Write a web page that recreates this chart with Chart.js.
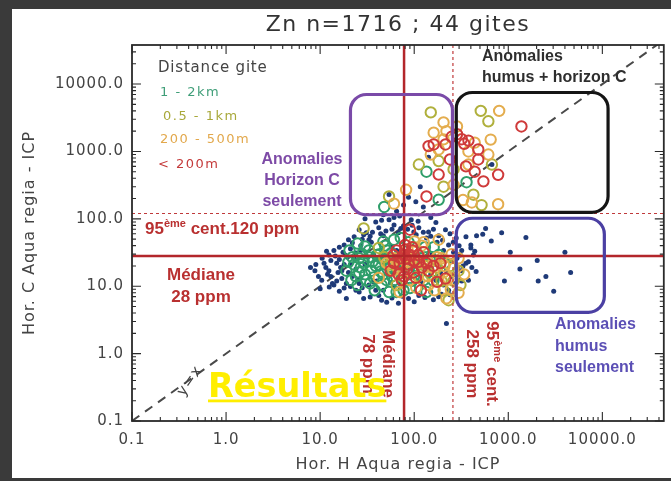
<!DOCTYPE html>
<html>
<head>
<meta charset="utf-8">
<script src="https://cdn.jsdelivr.net/npm/chart.js@4.4.1/dist/chart.umd.min.js"></script>
<style>
  html, body { margin: 0; padding: 0; width: 671px; height: 481px; overflow: hidden; background: #3a3a3a; }
  #panel { position: absolute; left: 12px; top: 9px; width: 659px; height: 469px; background: #fff; }
  canvas { display: block; }
</style>
</head>
<body>
<div id="panel"><canvas id="zn" width="659" height="469"></canvas></div>
<script>
// axis ticks (ppm, log scale)
const xTicks = [0.1, 1, 10, 100, 1000, 10000];
const yTicks = [0.1, 1, 10, 100, 1000, 10000];
const xRange = [0.1, 45000];
const yRange = [0.1, 38000];

// thresholds
const medianH = 78, p95H = 258;   // humus
const medianC = 28, p95C = 120;   // horizon C

// zones [xmin, xmax, ymin, ymax]
const zoneOnlyC = [21, 255, 115, 7000];
const zoneBoth = [280, 11500, 125, 7500];
const zoneOnlyH = [280, 10500, 4.1, 102];

// samples, [horizon H, horizon C] in ppm
const farDots = [
  [8.8,17],[11,22],[13,14],[15,12],[17,17],[19,6.6],[29,6.6],[51,5.8],[68,5.6],[24,8.7],[39,8.7],
  [16,38],[20,49],[26,69],[39,90],[54,97],[93,97],[170,88],[215,69],[280,52],[320,34],[355,22],
  [296,12.3],[232,8.7],[182,7],[220,2.8],[7.9,19],[10.4,12.3],
  [12.4,29],[14,34],[18,41],[23,54],[29,58],[33,49],[42,74],[61,81],[77,79],[112,74],[142,64],[182,56],
  [232,41],[262,32],[285,26],[315,17],[262,15],[205,10.4],[150,8.2],[112,7.3],[87,6.6],[42,7.3],[26,8.2],
  [18,9.4],[14,10.4],[12.4,17],[15,22],[18.5,29],[21,21],[16.5,19],[25,12.3],[33,10.4],[47,8.7],[61,9.8],
  [126,9.8],[170,12.3],[220,17],[245,24],[205,34],[175,45],[135,52],[99,64],[68,62],[47,56],[35,45],
  [27,34],[23,26],[20,16],[27,13.3],[37,11.6],[56,11.3],[82,10.4],[118,11.6],[150,15],[377,23],[426,29],
  [400,41],[355,54],[455,16.5],[377,12.3],
  [574,72],[535,59],[850,62],[660,47],[1540,53],[1050,32],[4000,32],[2030,24],[1330,18],[4600,16],
  [2510,14],[910,12],[2080,12],[3040,8.4],[460,56],[440,33],[400,37],[410,19],[320,12],
  [142,820],[116,300],[87,210],[104,180],[670,640],[54,230],[77,160],[65,130],[47,115],[61,105],
  [37,29],[47,22],[65,34],[90,19],[135,26],[182,21],[112,36],[56,15],[30,21],
  [10.5,26],[11.5,19],[12,15],[13,24],[13.5,11],[14.5,28],[15.5,16],[16,25],[17,13],[17.5,32],[18,21],
  [19,11],[19.5,27],[21,36],[22,14],[22,44],[24,18],[24,31],[26,11],[27,40],[28,50],[31,62],[34,55],
  [36,63],[44,60],[50,66],[58,70],[72,72],[85,70],[95,80],[105,58],[125,63],[150,55],[160,70],[200,48],
  [240,60],[260,45],[300,40],[310,29],[330,20],[290,19],[275,11],[250,14],[240,7.5],[195,7.6],[160,6.3],
  [130,6.8],[100,5.9],[75,7.1],[58,6.7],[45,6.2],[34,6.9],[28,9.5],[21,9.9],[16,8.4],[12.5,9.7],[9.6,14],
  [10,9.2],[9,21],[11.7,33],
  [44,27],[58,38],[83,32],[120,27],[155,30],[190,16],[100,11],[70,11],[40,12],[32,27],
  [30,100],[70,110],[45,95],[110,92],[150,105],[125,150]
];
const km1to2 = [
  [29,23],[35,17],[42,21],[37,13.5],[47,15],[56,19],[26,16],[31,12.3],[45,10.4],[61,12.3],[23,21],
  [40,29],[51,34],[68,26],[87,15],[112,17],[142,21],[99,23],[77,8.7],[126,12.3],[182,29],[161,38],
  [61,49],[87,45],[33,34],[26,26],[20,23],[25,10.4],[54,8.2],
  [20.5,34],[25,43],[30,39],[36,23],[44,16.5],[51,12.3],[38,8.7],[30,15],[21.5,12.3],[19,17],[56,26],
  [65,8.2],[90,9.4],[135,8.2],[165,17],[210,22],[47,46],[72,52],
  [33,27],[39,20],[46,25],[52,18],[58,14],[63,21],[71,17],[27,19],[24,14],[34,11],[43,30],[49,40],
  [57,31],[80,19],[95,12],[105,20],[118,26],[150,27],[160,12],[130,38],[28,30],[22,27],
  [135,500],[360,350],[182,192],[48,150]
];
const km05to1 = [
  [150,3800],[510,4000],[614,2800],[182,720],[670,640],[205,300],[520,160],[54,215],[29,72],
  [112,640],[262,540],[426,228],
  [54,21],[77,16],[104,26],[150,15],[205,8.7],[262,12],[65,10.4],[42,37],[296,17],[232,6.2],[310,10.4],
  [66,19],[85,28],[110,14],[130,20],[175,19],[195,12],[240,20],[48,27],[100,38]
];
const m200to500 = [
  [800,4000],[205,2700],[161,1900],[440,1350],[650,1500],[182,1070],[150,900],[377,1000],[330,190],
  [410,175],[780,165],[82,270],[220,2000],[285,2350],[205,1510],[377,640],[614,900],[262,320],[61,168],
  [68,18.5],[87,23],[126,18.5],[112,29],[161,24],[205,16],[90,12.3],[142,10.4],[262,18.5],[245,9],
  [182,49],[126,45],[61,26],[220,6.6],[296,8],
  [51,22],[42,13.3],[165,8.7],[195,26],[101,46],[70,8.2],[296,26],[340,15],
  [75,20],[95,26],[115,22],[140,14],[155,19],[175,27],[210,20],[230,13],[250,30],[105,9.5],[120,40],
  [85,35],[60,17]
];
const under200 = [
  [1380,2350],[250,1650],[320,1520],[377,1450],[340,1300],[142,1200],[161,1270],[240,760],[480,1070],
  [480,760],[355,600],[440,500],[780,450],[135,215],[285,1800],[182,454],[215,1270],[544,360],
  [77,29],[87,21],[68,15],[99,16],[112,23],[142,17],[80,41],[61,22],[175,11.6],[215,13],[118,8.7],
  [90,69],[126,32],
  [70,22],[82,26],[65,34],[96,34],[74,12.3],[56,17],[104,13.3],[135,22],
  [72,26],[90,29],[100,24],[84,18],[78,14],[120,19],[110,29],[95,38],[160,20],[190,22],[60,29],[80,35]
];

const toXY = pts => pts.map(([x, y]) => ({ x, y }));
const ring = (label, pts, color, order) => ({
  label, data: toXY(pts), order,
  pointRadius: 5.2, borderWidth: 2, borderColor: color, backgroundColor: 'rgba(0,0,0,0)'
});

const colGreen = '#2f9e6a', colOlive = '#b0b03c', colOrange = '#e4ad4e', colRed = '#cf3a3a';
const redLine = '#b3262b', redText = '#b93030';

function text(ctx, s, x, y, font, color, align, spacing) {
  ctx.save();
  ctx.font = font;
  ctx.fillStyle = color;
  ctx.textAlign = align || 'left';
  ctx.textBaseline = 'middle';
  ctx.letterSpacing = spacing || '0px';
  ctx.fillText(s, x, y);
  ctx.restore();
}

// text with a superscript part: parts = [[str, isSup], ...]
function richText(ctx, parts, x, y, size, color, align) {
  ctx.save();
  ctx.fillStyle = color;
  ctx.textBaseline = 'middle';
  ctx.textAlign = 'left';
  ctx.letterSpacing = '0px';
  const fonts = parts.map(p => 'bold ' + (p[1] ? Math.round(size * 0.62) : size) + 'px "Liberation Sans"');
  let w = 0;
  parts.forEach((p, i) => { ctx.font = fonts[i]; w += ctx.measureText(p[0]).width; });
  let cx = align === 'center' ? x - w / 2 : x;
  parts.forEach((p, i) => {
    ctx.font = fonts[i];
    ctx.fillText(p[0], cx, p[1] ? y - size * 0.3 : y);
    cx += ctx.measureText(p[0]).width;
  });
  ctx.restore();
}

const overlay = {
  id: 'overlay',
  beforeDraw(chart) {
    chart.ctx.letterSpacing = '1px';
  },
  beforeDatasetsDraw(chart) {
    const { ctx, chartArea: a, scales: { x, y } } = chart;
    ctx.save();
    ctx.beginPath();
    ctx.rect(a.left, a.top, a.right - a.left, a.bottom - a.top);
    ctx.clip();
    ctx.strokeStyle = '#4a4a4a';
    ctx.lineWidth = 2;
    ctx.setLineDash([9, 7]);
    ctx.beginPath();
    ctx.moveTo(x.getPixelForValue(xRange[0]), y.getPixelForValue(xRange[0]));
    ctx.lineTo(x.getPixelForValue(xRange[1]), y.getPixelForValue(xRange[1]));
    ctx.stroke();
    ctx.restore();
  },
  afterDatasetsDraw(chart) {
    const { ctx, chartArea: a, scales: { x, y } } = chart;
    ctx.save();
    ctx.letterSpacing = '0px';

    // thresholds
    ctx.strokeStyle = redLine;
    ctx.lineWidth = 2.5;
    ctx.beginPath();
    ctx.moveTo(x.getPixelForValue(medianH), a.top); ctx.lineTo(x.getPixelForValue(medianH), a.bottom);
    ctx.moveTo(a.left, y.getPixelForValue(medianC)); ctx.lineTo(a.right, y.getPixelForValue(medianC));
    ctx.stroke();
    ctx.lineWidth = 1.2;
    ctx.strokeStyle = '#c0393b';
    ctx.setLineDash([3, 3]);
    ctx.beginPath();
    ctx.moveTo(x.getPixelForValue(p95H), a.top); ctx.lineTo(x.getPixelForValue(p95H), a.bottom);
    ctx.moveTo(a.left, y.getPixelForValue(p95C)); ctx.lineTo(a.right, y.getPixelForValue(p95C));
    ctx.stroke();
    ctx.setLineDash([]);

    // zones
    [[zoneOnlyC, '#7a4aa8'], [zoneBoth, '#151515'], [zoneOnlyH, '#4b40a3']].forEach(([z, c]) => {
      const x0 = x.getPixelForValue(z[0]), x1 = x.getPixelForValue(z[1]);
      const y0 = y.getPixelForValue(z[3]), y1 = y.getPixelForValue(z[2]);
      ctx.strokeStyle = c;
      ctx.lineWidth = 3.2;
      ctx.beginPath();
      ctx.roundRect(x0, y0, x1 - x0, y1 - y0, 16);
      ctx.stroke();
    });

    // frame + IDL style ticks on the four sides
    ctx.strokeStyle = '#2a2a2a';
    ctx.lineWidth = 1.8;
    ctx.strokeRect(a.left, a.top, a.right - a.left, a.bottom - a.top);
    ctx.lineWidth = 1.1;
    ctx.beginPath();
    for (let d = -1; d <= 4; d++) {
      for (let k = 1; k <= 9; k++) {
        const v = k * Math.pow(10, d);
        const len = k === 1 ? 9 : 4;
        if (v >= x.min && v <= x.max) {
          const px = x.getPixelForValue(v);
          ctx.moveTo(px, a.bottom); ctx.lineTo(px, a.bottom - len);
          ctx.moveTo(px, a.top); ctx.lineTo(px, a.top + len);
        }
        if (v >= y.min && v <= y.max) {
          const py = y.getPixelForValue(v);
          ctx.moveTo(a.left, py); ctx.lineTo(a.left + len, py);
          ctx.moveTo(a.right, py); ctx.lineTo(a.right - len, py);
        }
      }
    }
    ctx.stroke();
    ctx.restore();

    // title
    text(ctx, 'Zn n=1716 ; 44 gites', (a.left + a.right) / 2, 16, '22px "DejaVu Sans"', '#333', 'center', '1.5px');

    // legend
    const lg = '13px "DejaVu Sans"';
    text(ctx, 'Distance gite', 146, 59, '15px "DejaVu Sans"', '#444', 'left', '0.8px');
    text(ctx, '1 - 2km', 148, 84, lg, '#3f9e78', 'left', '1.5px');
    text(ctx, '0.5 - 1km', 151, 108, lg, '#a8a83a', 'left', '1.5px');
    text(ctx, '200 - 500m', 148, 131, lg, '#e2a84c', 'left', '1.5px');
    text(ctx, '< 200m', 146, 156, lg, '#c43a3a', 'left', '1.5px');

    // zone labels
    const bf = 'bold 16px "Liberation Sans"';
    text(ctx, 'Anomalies', 470, 48, bf, '#2e2e2e');
    text(ctx, 'humus + horizon C', 470, 69, bf, '#2e2e2e');
    ['Anomalies', 'Horizon C', 'seulement'].forEach((s, i) => text(ctx, s, 290, 151 + i * 21, bf, '#7d4aa6', 'center'));
    ['Anomalies', 'humus', 'seulement'].forEach((s, i) => text(ctx, s, 543, 316 + i * 21.5, bf, '#5b4fb5'));

    // threshold labels
    const rf = 'bold 17px "Liberation Sans"';
    richText(ctx, [['95', false], ['ème', true], [' cent.120 ppm', false]], 133, 220, 17, redText);
    text(ctx, 'Médiane', 189, 266, rf, redText, 'center');
    text(ctx, '28 ppm', 189, 288, rf, redText, 'center');

    ctx.save();
    ctx.translate(376, 355);
    ctx.rotate(Math.PI / 2);
    text(ctx, 'Médiane', 0, 0, rf, redText, 'center');
    text(ctx, '78 ppm', 0, 20, rf, redText, 'center');
    ctx.restore();

    ctx.save();
    ctx.translate(480, 355);
    ctx.rotate(Math.PI / 2);
    richText(ctx, [['95', false], ['ème', true], [' cent.', false]], 0, 0, 17, redText, 'center');
    text(ctx, '258 ppm', 0, 20, rf, redText, 'center');
    ctx.restore();

    ctx.save();
    ctx.translate(178, 372);
    ctx.rotate(-55 * Math.PI / 180);
    text(ctx, 'y=x', 0, 0, '15px "DejaVu Sans"', '#444', 'center', '1px');
    ctx.restore();

    // slide caption
    ctx.save();
    ctx.font = 'bold 33.5px "DejaVu Sans"';
    ctx.fillStyle = '#ffee00';
    ctx.textBaseline = 'alphabetic';
    ctx.letterSpacing = '0px';
    const w = ctx.measureText('Résultats').width;
    ctx.fillText('Résultats', 196, 388);
    ctx.fillRect(196, 390.5, w, 2.8);
    ctx.restore();
  },
  afterDraw(chart) {
    chart.ctx.letterSpacing = '0px';
  }
};

const axisTick = { autoSkip: false, maxRotation: 0, color: '#444', font: { family: 'DejaVu Sans', size: 15 },
  callback: v => Number(v).toFixed(1) };

new Chart(document.getElementById('zn'), {
  type: 'scatter',
  data: {
    datasets: [
      ring('< 200m', under200, colRed, 1),
      ring('200 - 500m', m200to500, colOrange, 2),
      ring('0.5 - 1km', km05to1, colOlive, 3),
      ring('1 - 2km', km1to2, colGreen, 4),
      { label: '> 2km', data: toXY(farDots), order: 5, pointRadius: 2.5, borderWidth: 0, backgroundColor: '#1f3a78' }
    ]
  },
  options: {
    responsive: false,
    animation: false,
    layout: { padding: { top: 36, right: 3, left: 0, bottom: 0 } },
    plugins: { legend: { display: false }, tooltip: { enabled: false } },
    scales: {
      x: {
        type: 'logarithmic', min: xRange[0], max: xRange[1],
        afterFit: s => { s.height = 57; },
        afterBuildTicks: s => { s.ticks = xTicks.map(v => ({ value: v })); },
        grid: { display: false, drawTicks: false }, border: { display: false },
        ticks: { ...axisTick, padding: 10 },
        title: { display: true, text: 'Hor. H Aqua regia - ICP', color: '#444',
          font: { family: 'DejaVu Sans', size: 16 }, padding: { top: 0, bottom: 4 } }
      },
      y: {
        type: 'logarithmic', min: yRange[0], max: yRange[1],
        afterFit: s => { s.width = 120; },
        afterBuildTicks: s => { s.ticks = yTicks.map(v => ({ value: v })); },
        grid: { display: false, drawTicks: false }, border: { display: false },
        ticks: { ...axisTick, padding: 8 },
        title: { display: true, text: 'Hor. C Aqua regia - ICP', color: '#444',
          font: { family: 'DejaVu Sans', size: 16 }, padding: { top: 8, bottom: 0 } }
      }
    }
  },
  plugins: [overlay]
});
</script>
</body>
</html>
